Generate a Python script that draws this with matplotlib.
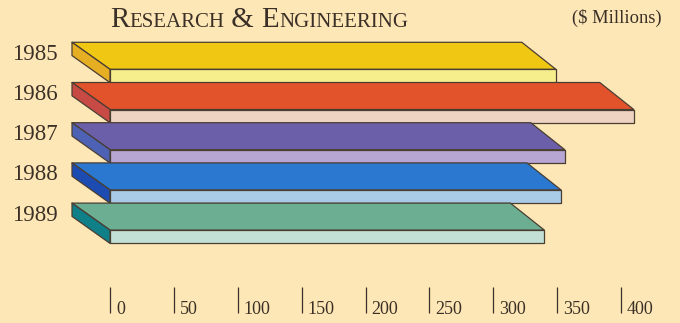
import matplotlib
matplotlib.use('Agg')
import matplotlib.pyplot as plt
from matplotlib.patches import Polygon

# R&D spending by year, $ millions
vuodet = ['1985', '1986', '1987', '1988', '1989']
arvot = [349, 410, 356, 353, 340]
tikit = [0, 50, 100, 150, 200, 250, 300, 350, 400]

# (top, front, end) colours per bar
kannet = ['#f0c814', '#e2532c', '#6b5fa9', '#2a78cf', '#6cae91']
etupinnat = ['#f6ee8c', '#eed2c2', '#b7a5d3', '#a9cbe8', '#c2e0d5']
paadyt = ['#e6ae22', '#c84a44', '#4d62b4', '#1c4cb2', '#0f7f88']

tausta = '#fde7b6'
tekstivari = '#3b3027'
reuna = '#4a3e33'

plt.rcParams['font.family'] = ['Liberation Serif', 'DejaVu Serif']

fig = plt.figure(figsize=(6.8, 3.23), dpi=100)
fig.patch.set_facecolor(tausta)
ax = fig.add_axes([0, 0, 1, 1])
ax.set_facecolor(tausta)

# x in $ millions, y in pixels from the top
px = 1.2775          # pixels per unit
x0 = 110             # pixel column of zero
ax.set_xlim(-x0 / px, (680 - x0) / px)
ax.set_ylim(323, 0)
ax.axis('off')

vasen = 38 / px      # depth offset at the left end
oikea = 34 / px      # depth offset at the right end
syvyys = 27          # vertical depth, px
paksuus = 13.3       # front face height, px
ylin = 69.3
vali = 40.2

for i, (v, vuosi) in enumerate(zip(arvot, vuodet)):
    y0 = ylin + i * vali
    kansi = [(0, y0), (v, y0), (v - oikea, y0 - syvyys), (-vasen, y0 - syvyys)]
    etu = [(0, y0), (v, y0), (v, y0 + paksuus), (0, y0 + paksuus)]
    paaty = [(-vasen, y0 - syvyys), (0, y0), (0, y0 + paksuus),
             (-vasen, y0 - syvyys + paksuus)]
    for pts, c in ((kansi, kannet[i]), (etu, etupinnat[i]), (paaty, paadyt[i])):
        ax.add_patch(Polygon(pts, closed=True, facecolor=c, edgecolor=reuna,
                             linewidth=0.9, joinstyle='round'))
    ax.text(-52 / px, y0 - 15, vuosi, ha='right', va='center',
            fontsize=16.5, color=tekstivari)

# scale ticks along the bottom
ax.vlines(tikit, 287, 313, color=tekstivari, linewidth=0.9)
for t in tikit:
    ax.text(t + 6 / px, 309, str(t), ha='left', va='center',
            fontsize=13, color=tekstivari)

# small-caps title built from pieces
osat = [('R', 20.8), ('ESEARCH', 15), (' & ', 20.8), ('E', 20.8), ('NGINEERING', 15)]
fig.canvas.draw()
r = fig.canvas.get_renderer()
xp = 110
for teksti, koko in osat:
    tt = fig.text(xp / 680, 1 - 27 / 323, teksti, fontsize=koko, color=tekstivari,
                  ha='left', va='baseline')
    xp += tt.get_window_extent(renderer=r).width

fig.text(662 / 680, 1 - 18 / 323, '($ Millions)', ha='right', va='center',
         fontsize=13.3, color=tekstivari)

fig.savefig('out.png', dpi=100, facecolor=tausta)
